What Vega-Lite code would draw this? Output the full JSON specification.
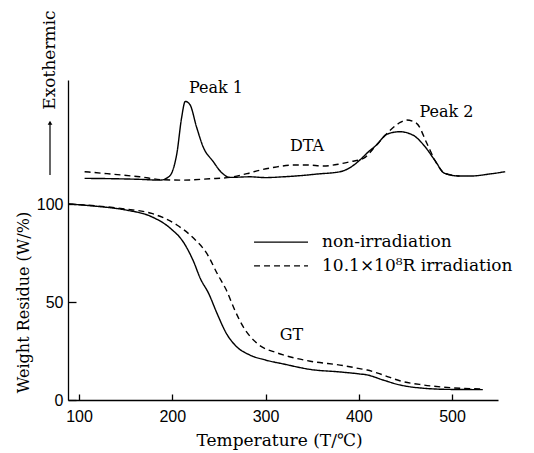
{
  "$schema": "https://vega.github.io/schema/vega-lite/v6.json",
  "width": 430,
  "height": 320,
  "autosize": {"type": "none"},
  "padding": {"left": 68, "top": 80, "right": 36, "bottom": 53},
  "config": {
    "view": {"stroke": null},
    "axis": {"grid": false, "domainColor": "black", "tickColor": "black", "labelColor": "black", "titleColor": "black", "domainWidth": 1.3, "tickWidth": 1.3}
  },
  "datasets": {
    "curves": [
      {"curve": "TG", "series": "non", "T": 89, "v": 100},
      {"curve": "TG", "series": "non", "T": 120, "v": 98.8},
      {"curve": "TG", "series": "non", "T": 151, "v": 96.9},
      {"curve": "TG", "series": "non", "T": 178, "v": 93.5},
      {"curve": "TG", "series": "non", "T": 198, "v": 87.6},
      {"curve": "TG", "series": "non", "T": 212, "v": 80.5},
      {"curve": "TG", "series": "non", "T": 223, "v": 70.5},
      {"curve": "TG", "series": "non", "T": 230, "v": 62.1},
      {"curve": "TG", "series": "non", "T": 239, "v": 54.4},
      {"curve": "TG", "series": "non", "T": 248, "v": 44.2},
      {"curve": "TG", "series": "non", "T": 258, "v": 34.0},
      {"curve": "TG", "series": "non", "T": 269, "v": 27.2},
      {"curve": "TG", "series": "non", "T": 283, "v": 23.0},
      {"curve": "TG", "series": "non", "T": 300, "v": 20.4},
      {"curve": "TG", "series": "non", "T": 319, "v": 18.4},
      {"curve": "TG", "series": "non", "T": 348, "v": 15.6},
      {"curve": "TG", "series": "non", "T": 380, "v": 14.3},
      {"curve": "TG", "series": "non", "T": 401, "v": 13.3},
      {"curve": "TG", "series": "non", "T": 409, "v": 12.8},
      {"curve": "TG", "series": "non", "T": 426, "v": 10.2},
      {"curve": "TG", "series": "non", "T": 444, "v": 7.7},
      {"curve": "TG", "series": "non", "T": 469, "v": 6.0},
      {"curve": "TG", "series": "non", "T": 498, "v": 5.4},
      {"curve": "TG", "series": "non", "T": 533, "v": 5.3},
      {"curve": "TG", "series": "irr", "T": 89, "v": 100},
      {"curve": "TG", "series": "irr", "T": 120, "v": 99.0},
      {"curve": "TG", "series": "irr", "T": 151, "v": 97.4},
      {"curve": "TG", "series": "irr", "T": 178, "v": 95.2},
      {"curve": "TG", "series": "irr", "T": 205, "v": 89.3},
      {"curve": "TG", "series": "irr", "T": 223, "v": 82.5},
      {"curve": "TG", "series": "irr", "T": 237, "v": 74.8},
      {"curve": "TG", "series": "irr", "T": 249, "v": 63.8},
      {"curve": "TG", "series": "irr", "T": 258, "v": 56.1},
      {"curve": "TG", "series": "irr", "T": 267, "v": 45.9},
      {"curve": "TG", "series": "irr", "T": 276, "v": 37.4},
      {"curve": "TG", "series": "irr", "T": 291, "v": 28.9},
      {"curve": "TG", "series": "irr", "T": 312, "v": 24.1},
      {"curve": "TG", "series": "irr", "T": 319, "v": 23.0},
      {"curve": "TG", "series": "irr", "T": 348, "v": 19.8},
      {"curve": "TG", "series": "irr", "T": 383, "v": 17.6},
      {"curve": "TG", "series": "irr", "T": 401, "v": 16.0},
      {"curve": "TG", "series": "irr", "T": 409, "v": 15.3},
      {"curve": "TG", "series": "irr", "T": 426, "v": 12.8},
      {"curve": "TG", "series": "irr", "T": 444, "v": 9.8},
      {"curve": "TG", "series": "irr", "T": 469, "v": 7.7},
      {"curve": "TG", "series": "irr", "T": 498, "v": 6.3},
      {"curve": "TG", "series": "irr", "T": 533, "v": 5.6},
      {"curve": "DTA", "series": "non", "T": 106, "v": 113.1},
      {"curve": "DTA", "series": "non", "T": 140, "v": 112.9},
      {"curve": "DTA", "series": "non", "T": 165, "v": 112.6},
      {"curve": "DTA", "series": "non", "T": 187, "v": 112.2},
      {"curve": "DTA", "series": "non", "T": 195, "v": 113.5},
      {"curve": "DTA", "series": "non", "T": 200, "v": 116.5},
      {"curve": "DTA", "series": "non", "T": 205, "v": 126},
      {"curve": "DTA", "series": "non", "T": 210, "v": 144},
      {"curve": "DTA", "series": "non", "T": 214, "v": 152.4},
      {"curve": "DTA", "series": "non", "T": 219, "v": 150.7},
      {"curve": "DTA", "series": "non", "T": 226, "v": 139.4},
      {"curve": "DTA", "series": "non", "T": 233, "v": 129.3},
      {"curve": "DTA", "series": "non", "T": 244, "v": 121.6},
      {"curve": "DTA", "series": "non", "T": 252, "v": 116.5},
      {"curve": "DTA", "series": "non", "T": 262, "v": 113.6},
      {"curve": "DTA", "series": "non", "T": 283, "v": 113.9},
      {"curve": "DTA", "series": "non", "T": 300, "v": 113.5},
      {"curve": "DTA", "series": "non", "T": 319, "v": 113.9},
      {"curve": "DTA", "series": "non", "T": 340, "v": 114.6},
      {"curve": "DTA", "series": "non", "T": 355, "v": 115.3},
      {"curve": "DTA", "series": "non", "T": 380, "v": 116.5},
      {"curve": "DTA", "series": "non", "T": 392, "v": 119},
      {"curve": "DTA", "series": "non", "T": 401, "v": 122.4},
      {"curve": "DTA", "series": "non", "T": 410, "v": 126.5},
      {"curve": "DTA", "series": "non", "T": 419, "v": 130.1},
      {"curve": "DTA", "series": "non", "T": 430, "v": 135.6},
      {"curve": "DTA", "series": "non", "T": 444, "v": 136.9},
      {"curve": "DTA", "series": "non", "T": 458, "v": 135.2},
      {"curve": "DTA", "series": "non", "T": 471, "v": 129.3},
      {"curve": "DTA", "series": "non", "T": 482, "v": 122},
      {"curve": "DTA", "series": "non", "T": 492, "v": 115.7},
      {"curve": "DTA", "series": "non", "T": 508, "v": 114.3},
      {"curve": "DTA", "series": "non", "T": 520, "v": 114.3},
      {"curve": "DTA", "series": "non", "T": 540, "v": 115.3},
      {"curve": "DTA", "series": "non", "T": 557, "v": 116.5},
      {"curve": "DTA", "series": "irr", "T": 106, "v": 116.5},
      {"curve": "DTA", "series": "irr", "T": 130, "v": 115.5},
      {"curve": "DTA", "series": "irr", "T": 165, "v": 113.9},
      {"curve": "DTA", "series": "irr", "T": 190, "v": 112.4},
      {"curve": "DTA", "series": "irr", "T": 212, "v": 112.2},
      {"curve": "DTA", "series": "irr", "T": 240, "v": 112.9},
      {"curve": "DTA", "series": "irr", "T": 262, "v": 113.6},
      {"curve": "DTA", "series": "irr", "T": 280, "v": 115.5},
      {"curve": "DTA", "series": "irr", "T": 294, "v": 117.3},
      {"curve": "DTA", "series": "irr", "T": 310, "v": 118.8},
      {"curve": "DTA", "series": "irr", "T": 330, "v": 119.9},
      {"curve": "DTA", "series": "irr", "T": 345, "v": 119.9},
      {"curve": "DTA", "series": "irr", "T": 362, "v": 119.4},
      {"curve": "DTA", "series": "irr", "T": 380, "v": 120.5},
      {"curve": "DTA", "series": "irr", "T": 391, "v": 121.6},
      {"curve": "DTA", "series": "irr", "T": 405, "v": 123.3},
      {"curve": "DTA", "series": "irr", "T": 419, "v": 130.1},
      {"curve": "DTA", "series": "irr", "T": 434, "v": 137.8},
      {"curve": "DTA", "series": "irr", "T": 444, "v": 141.5},
      {"curve": "DTA", "series": "irr", "T": 451, "v": 142.9},
      {"curve": "DTA", "series": "irr", "T": 462, "v": 141.2},
      {"curve": "DTA", "series": "irr", "T": 473, "v": 131},
      {"curve": "DTA", "series": "irr", "T": 482, "v": 122},
      {"curve": "DTA", "series": "irr", "T": 492, "v": 115.7},
      {"curve": "DTA", "series": "irr", "T": 508, "v": 114.3}
    ],
    "legend": [
      {"series": "non", "T": 287.7, "T2": 345.6, "v": 80.6, "Tt": 360.6, "label": "non-irradiation"},
      {"series": "irr", "T": 287.7, "T2": 345.6, "v": 68.4, "Tt": 360.6, "label": "10.1×10⁸R irradiation"}
    ],
    "notes": [
      {"T": 246.9, "v": 159.2, "label": "Peak 1"},
      {"T": 494.1, "v": 146.9, "label": "Peak 2"},
      {"T": 344.5, "v": 129.6, "label": "DTA"},
      {"T": 327.9, "v": 33.2, "label": "GT"}
    ],
    "exo": [
      {"T": 68.9, "v": 114.8, "v2": 141.5, "vt": 173.5, "label": "Exothermic"}
    ]
  },
  "layer": [
    {
      "data": {"name": "curves"},
      "mark": {"type": "line", "color": "black", "strokeWidth": 1.4, "interpolate": "monotone"},
      "encoding": {
        "x": {"field": "T", "type": "quantitative", "scale": {"domain": [88.2, 549.3], "nice": false, "zero": false},
          "axis": {"values": [100, 200, 300, 400, 500], "tickSize": -6, "labelPadding": 14, "labelFont": "Liberation Sans", "labelFontSize": 16,
            "title": "Temperature (T/℃)", "titleFont": "DejaVu Serif", "titleFontSize": 17, "titleFontWeight": "normal", "titleBaseline": "alphabetic", "titleY": 45, "titleX": 211}},
        "y": {"field": "v", "type": "quantitative", "scale": {"domain": [0, 163.3], "nice": false},
          "axis": {"values": [0, 50, 100], "tickSize": -8, "labelPadding": 13, "labelFont": "Liberation Sans", "labelFontSize": 16,
            "title": "Weight Residue (W/%)", "titleFont": "DejaVu Serif", "titleFontSize": 16, "titleFontWeight": "normal", "titleBaseline": "alphabetic", "titleAngle": 270, "titleX": -40, "titleY": 222}},
        "detail": {"field": "curve"},
        "strokeDash": {"field": "series", "type": "nominal", "scale": {"domain": ["non", "irr"], "range": [[1, 0], [6, 4]]}, "legend": null}
      }
    },
    {
      "data": {"name": "legend"},
      "mark": {"type": "rule", "color": "black", "strokeWidth": 1.3},
      "encoding": {
        "x": {"field": "T", "type": "quantitative"},
        "x2": {"field": "T2"},
        "y": {"field": "v", "type": "quantitative"},
        "strokeDash": {"field": "series", "type": "nominal", "scale": {"domain": ["non", "irr"], "range": [[1, 0], [6, 4]]}, "legend": null}
      }
    },
    {
      "data": {"name": "legend"},
      "mark": {"type": "text", "align": "left", "baseline": "middle", "font": "DejaVu Serif", "fontSize": 17, "color": "black"},
      "encoding": {
        "x": {"field": "Tt", "type": "quantitative"},
        "y": {"field": "v", "type": "quantitative"},
        "text": {"field": "label"}
      }
    },
    {
      "data": {"name": "notes"},
      "mark": {"type": "text", "align": "center", "baseline": "middle", "font": "DejaVu Serif", "fontSize": 16, "color": "black"},
      "encoding": {
        "x": {"field": "T", "type": "quantitative"},
        "y": {"field": "v", "type": "quantitative"},
        "text": {"field": "label"}
      }
    },
    {
      "data": {"name": "exo"},
      "mark": {"type": "rule", "color": "black", "strokeWidth": 1.2},
      "encoding": {
        "x": {"field": "T", "type": "quantitative"},
        "y": {"field": "v", "type": "quantitative"},
        "y2": {"field": "v2"}
      }
    },
    {
      "data": {"name": "exo"},
      "mark": {"type": "point", "shape": "triangle-up", "filled": true, "color": "black", "size": 22, "opacity": 1},
      "encoding": {
        "x": {"field": "T", "type": "quantitative"},
        "y": {"field": "v2", "type": "quantitative"}
      }
    },
    {
      "data": {"name": "exo"},
      "mark": {"type": "text", "angle": 270, "align": "center", "baseline": "middle", "font": "DejaVu Serif", "fontSize": 17, "color": "black"},
      "encoding": {
        "x": {"field": "T", "type": "quantitative"},
        "y": {"field": "vt", "type": "quantitative"},
        "text": {"field": "label"}
      }
    }
  ]
}
